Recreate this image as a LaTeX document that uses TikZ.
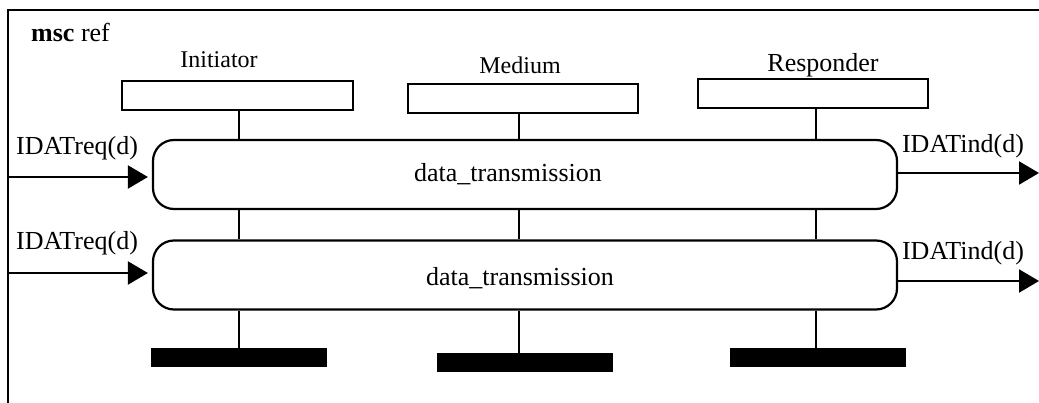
\documentclass[tikz,border=0pt]{standalone}
\usepackage{fontspec}
\setmainfont{Liberation Serif}
\usetikzlibrary{arrows.meta}
\begin{document}
\begin{tikzpicture}[x=1pt,y=-1pt,
  lw/.style={line width=2.2pt},
  head/.style={draw,lw,rectangle,inner sep=0pt},
  refbox/.style={draw,lw,rectangle,rounded corners=21pt,inner sep=0pt,minimum width=744pt,minimum height=69pt},
  stopbar/.style={fill=black,rectangle,inner sep=0pt,minimum width=176pt,minimum height=19pt},
  lbl/.style={font=\fontsize{26}{28}\selectfont,inner sep=0pt,anchor=base},
  lbls/.style={font=\fontsize{24}{26}\selectfont,inner sep=0pt,anchor=base},
  msg/.style={lw,-{Triangle[length=20pt,width=23pt]}}
]
\useasboundingbox (0,0) rectangle (1039,403);
% frame
\coordinate (ftl) at (8,10);
\coordinate (ftr) at (1039,10);
\coordinate (fbl) at (8,403);
\draw[lw] (ftr) -- (ftl) -- (fbl);
\node[lbl,anchor=base west] (title) at (31,42) {\textbf{msc} ref};
% instance heads
\node[head,minimum width=231pt,minimum height=29pt] (ihead) at (237.5,95.5) {};
\node[head,minimum width=230pt,minimum height=29pt] (mhead) at (523,98.5) {};
\node[head,minimum width=230pt,minimum height=29pt] (rhead) at (813,93.5) {};
\node[lbls] (ilbl) at (219,68) {Initiator};
\node[lbls] (mlbl) at (520,74) {Medium};
\node[lbl] (rlbl) at (823,72) {Responder};
% reference boxes
\node[refbox] (ref1) at (525,174.5) {};
\node[refbox] (ref2) at (525,275) {};
\node[lbl] (t1) at (508,182) {data\_transmission};
\node[lbl] (t2) at (520,286) {data\_transmission};
% stops
\node[stopbar] (istop) at (239,357.5) {};
\node[stopbar] (mstop) at (524.5,362.5) {};
\node[stopbar] (rstop) at (818,357.5) {};
% lifelines
\coordinate (il) at (239,0);
\coordinate (ml) at (519,0);
\coordinate (rl) at (816,0);
\foreach \l/\h/\s in {il/ihead/istop, ml/mhead/mstop, rl/rhead/rstop}{
  \draw[lw] (\l |- \h.south) -- (\l |- ref1.north);
  \draw[lw] (\l |- ref1.south) -- (\l |- ref2.north);
  \draw[lw] (\l |- ref2.south) -- (\l |- \s.north);
}
% messages
\coordinate (in1) at (8,177);
\coordinate (in2) at (8,273);
\coordinate (out1) at (1039,173);
\coordinate (out2) at (1039,281);
\draw[msg,shorten >=4pt] (in1) -- (in1 -| ref1.west);
\draw[msg,shorten >=4pt] (in2) -- (in2 -| ref2.west);
\draw[msg] (out1 -| ref1.east) -- (out1);
\draw[msg] (out2 -| ref2.east) -- (out2);
\node[lbl] (r1) at (77,155) {IDATreq(d)};
\node[lbl] (r2) at (77,250) {IDATreq(d)};
\node[lbl] (d1) at (963,153) {IDATind(d)};
\node[lbl] (d2) at (963,260) {IDATind(d)};
\end{tikzpicture}
\end{document}
